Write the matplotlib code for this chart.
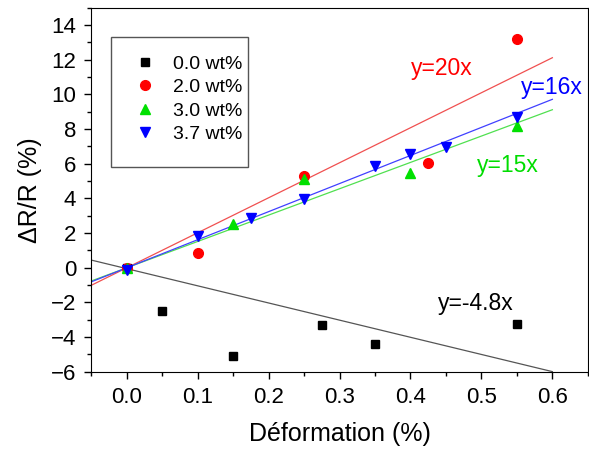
import matplotlib
matplotlib.use("Agg")
import matplotlib.pyplot as plt
from matplotlib.patches import Rectangle
from matplotlib.ticker import MultipleLocator

plt.rcParams["font.family"] = ["Liberation Sans", "DejaVu Sans"]

# séries mesurées
labels = ["0.0 wt%", "2.0 wt%", "3.0 wt%", "3.7 wt%"]

x_00 = [0.0, 0.05, 0.15, 0.275, 0.35, 0.55]
y_00 = [0.0, -2.5, -5.1, -3.3, -4.4, -3.25]

x_20 = [0.0, 0.1, 0.25, 0.425, 0.55]
y_20 = [0.0, 0.85, 5.3, 6.05, 13.2]

x_30 = [0.0, 0.15, 0.25, 0.4, 0.55]
y_30 = [0.0, 2.5, 5.1, 5.45, 8.2]

x_37 = [0.0, 0.1, 0.175, 0.25, 0.35, 0.4, 0.45, 0.55]
y_37 = [-0.1, 1.85, 2.85, 3.95, 5.9, 6.55, 6.95, 8.7]

# droites d'ajustement (pente, ordonnée à l'origine) et texte affiché
fit_slopes = [-9.9, 20.2, 15.2, 16.2]
fit_offsets = [-0.05, 0.0, 0.0, 0.0]
fit_texts = ["y=-4.8x", "y=20x", "y=15x", "y=16x"]
fit_x = [-0.05, 0.6]

fig = plt.figure(figsize=(5.89, 4.59), dpi=100)
ax = fig.add_axes([0.155, 0.19, 0.843, 0.793])

ax.plot(x_00, y_00, "s", color="black", ms=6, label=labels[0], zorder=3)
ax.plot(x_20, y_20, "o", color="#ff0000", ms=7, label=labels[1], zorder=3)
ax.plot(x_30, y_30, "^", color="#00e000", ms=7.5, label=labels[2], zorder=3)
ax.plot(x_37, y_37, "v", color="#0000ff", ms=7.5, label=labels[3], zorder=3)

line_colors = ["#555555", "#f05050", "#50e050", "#4040ff"]
for a, b, c in zip(fit_slopes, fit_offsets, line_colors):
    ax.plot(fit_x, [a * x + b for x in fit_x], color=c, lw=0.9, zorder=2)

ax.text(0.4, 11.5, fit_texts[1], color="#ff0000", fontsize=16.5, va="center")
ax.text(0.556, 10.4, fit_texts[3], color="#0000ff", fontsize=16.5, va="center")
ax.text(0.494, 5.9, fit_texts[2], color="#00dd00", fontsize=16.5, va="center")
ax.text(0.438, -2.05, fit_texts[0], color="black", fontsize=16.5, va="center")

ax.set_xlim(-0.05, 0.65)
ax.set_ylim(-6, 15)
ax.set_xticks([0.0, 0.1, 0.2, 0.3, 0.4, 0.5, 0.6])
ax.set_yticks(range(-6, 15, 2))
ax.xaxis.set_minor_locator(MultipleLocator(0.05))
ax.yaxis.set_minor_locator(MultipleLocator(1))
ax.tick_params(which="both", direction="out", top=False, right=False, labelsize=16)
ax.tick_params(which="major", length=5, width=1, pad=6)
ax.tick_params(which="minor", length=3, width=1)
ax.xaxis.set_major_formatter(plt.FuncFormatter(lambda v, p: f"{v:.1f}"))

ax.set_xlabel("Déformation (%)", fontsize=18, labelpad=10)
ax.set_ylabel("ΔR/R (%)", fontsize=18, labelpad=6)

# cadre de la légende, plus haut que les entrées
ax.add_patch(Rectangle((0.040, 0.563), 0.276, 0.357, transform=ax.transAxes,
                       fill=False, edgecolor="#555555", lw=1.0, zorder=4))
leg = ax.legend(loc="upper left", bbox_to_anchor=(0.0815, 0.87), fontsize=14,
                frameon=False, borderpad=0, borderaxespad=0,
                handletextpad=0.7, labelspacing=0.3, handlelength=1.4)

fig.savefig("out.png", dpi=100)
